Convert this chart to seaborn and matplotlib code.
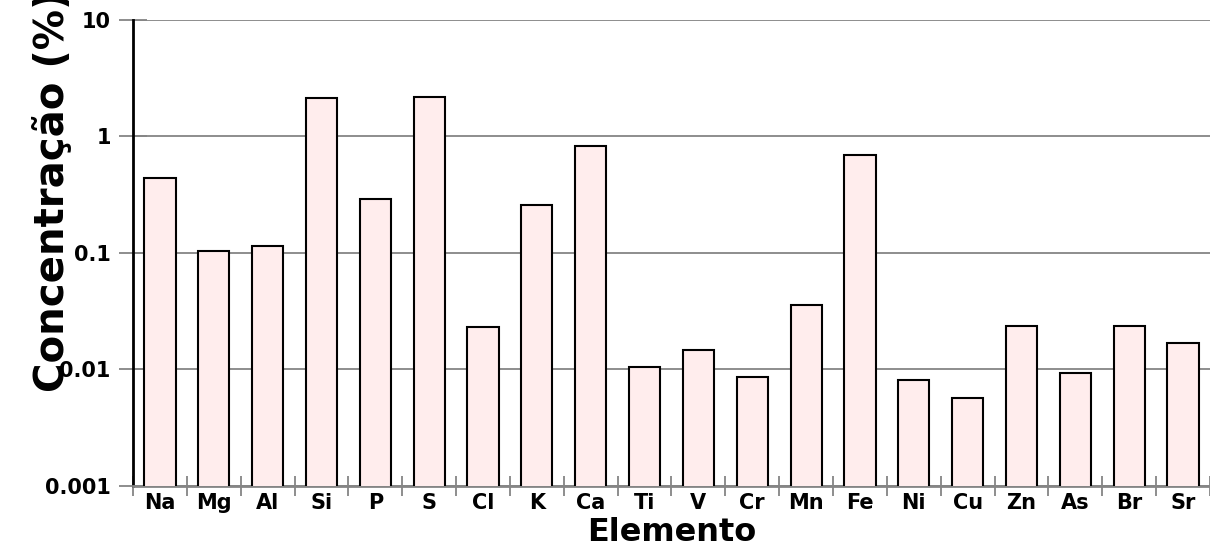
#Elemental concentration bar chart (log scale)

#import packages
import pandas as pd
import matplotlib
matplotlib.use("Agg")
from matplotlib import pyplot as plt
from matplotlib.ticker import FixedLocator, NullLocator, FuncFormatter
import seaborn as sns

# Data
elementos = ["Na", "Mg", "Al", "Si", "P", "S", "Cl", "K", "Ca", "Ti",
             "V", "Cr", "Mn", "Fe", "Ni", "Cu", "Zn", "As", "Br", "Sr"]
concentracao = [0.44, 0.104, 0.115, 2.14, 0.29, 2.18, 0.023, 0.258, 0.83, 0.0105,
                0.0147, 0.0086, 0.0358, 0.69, 0.0081, 0.0057, 0.0236, 0.0093, 0.0236, 0.0169]
y_ticks = [0.001, 0.01, 0.1, 1, 10]

df = pd.DataFrame({"Elemento": elementos, "Concentracao": concentracao})

sns.set_style("white")
plt.rcParams['font.family'] = ['DejaVu Sans']
plt.rcParams['font.weight'] = 'bold'
plt.rcParams['text.color'] = 'black'
plt.rcParams['axes.labelcolor'] = 'black'
plt.rcParams['xtick.labelcolor'] = 'black'
plt.rcParams['ytick.labelcolor'] = 'black'

fig = plt.figure(figsize=(12.1, 5.49), dpi=100)
ax = fig.add_axes([0.1099, 0.1148, 0.8901, 0.8488])

ax.set_yscale('log')
sns.barplot(data=df, x="Elemento", y="Concentracao", order=elementos,
            color="#FFEDED", edgecolor="black", linewidth=1.5, width=0.58,
            saturation=1, ax=ax, zorder=3)

ax.set_ylim(0.001, 10)
ax.set_xlim(-0.5, len(elementos) - 0.5)

# y axis ticks and grid
ax.yaxis.set_major_locator(FixedLocator(y_ticks))
ax.yaxis.set_minor_locator(NullLocator())
ax.yaxis.set_major_formatter(FuncFormatter(lambda v, p: "%g" % v))
ax.grid(axis='y', color='#858585', linewidth=1.3, zorder=0)
ax.tick_params(axis='y', which='major', left=True, direction='inout', length=20,
               width=1.3, color='#858585', labelsize=15, labelcolor='black', pad=6)

# x axis: labels at centers, tick marks between bars
ax.xaxis.set_minor_locator(FixedLocator([i - 0.5 for i in range(len(elementos) + 1)]))
ax.tick_params(axis='x', which='major', bottom=False, length=0, labelsize=15,
               labelcolor='black', pad=5)
ax.tick_params(axis='x', which='minor', bottom=True, direction='inout', length=14,
               width=1.3, color='#858585')

for sp in ['top', 'right']:
    ax.spines[sp].set_visible(False)
ax.spines['left'].set_color('black')
ax.spines['left'].set_linewidth(2)
ax.spines['bottom'].set_color('#858585')
ax.spines['bottom'].set_linewidth(2)

ax.set_xlabel("Elemento", fontsize=23, fontweight='bold', labelpad=3, color='black')
ax.set_ylabel("")
fig.text(0.043, 0.286, "Concentração (%)", rotation=90, ha='center', va='bottom',
         fontsize=29, fontweight='bold', color='black')

fig.savefig("out.png", dpi=100)
